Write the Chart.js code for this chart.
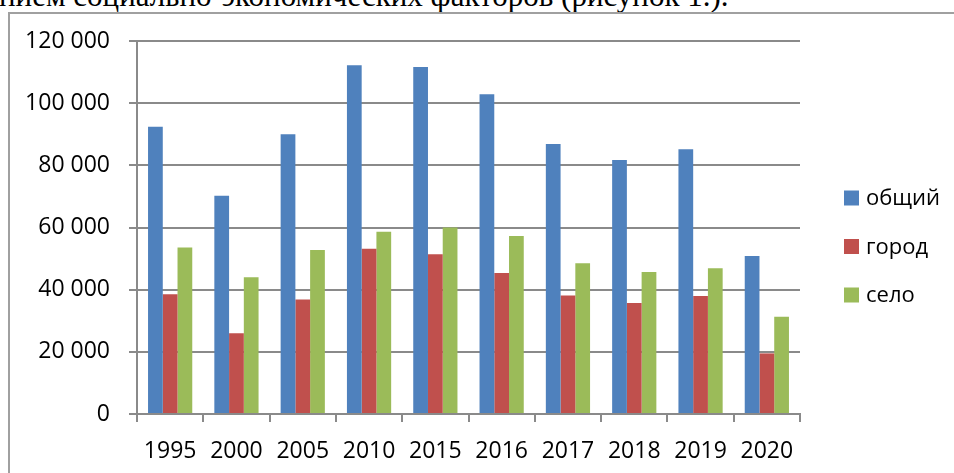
<!DOCTYPE html>
<html>
<head>
<meta charset="utf-8">
<script src="https://cdn.jsdelivr.net/npm/chart.js@4/dist/chart.umd.min.js"></script>
<style>
  html, body { margin: 0; padding: 0; background: #fff; }
  body { width: 954px; height: 473px; position: relative; overflow: hidden; }
  .caption {
    position: absolute; left: -1px; top: -22px; white-space: nowrap;
    font-family: "Liberation Serif", serif; font-size: 31px; color: #000;
  }
  .frame {
    position: absolute; left: 8px; top: 12px; width: 960px; height: 480px;
    border-left: 2px solid #a0a0a0; border-top: 2px solid #a0a0a0;
  }
  .wrap { position: absolute; left: 0; top: 0; width: 954px; height: 473px; }
</style>
</head>
<body>
<div class="caption">нием социально-экономических факторов (рисунок 1.).</div>
<div class="frame"></div>
<div class="wrap"><canvas id="chart"></canvas></div>
<script>
// данные
const years = ['1995', '2000', '2005', '2010', '2015', '2016', '2017', '2018', '2019', '2020'];
const total = [92400, 70200, 90000, 112200, 111600, 102900, 86900, 81700, 85200, 50800];
const city  = [38500, 26000, 36800, 53200, 51400, 45400, 38100, 35700, 38000, 19500];
const rural = [53600, 44000, 52800, 58600, 60000, 57300, 48500, 45700, 46900, 31300];
const seriesNames = ['общий', 'город', 'село'];
const colors = ['#4F81BD', '#C0504D', '#9BBB59'];
const yTicks = [0, 20000, 40000, 60000, 80000, 100000, 120000];

const FONT = '"Open Sans", sans-serif';
const gridColor = '#8a8a8a';

const fmt = (v) => String(v).replace(/\B(?=(\d{3})+(?!\d))/g, ' ');

// легенда справа
const sideLegend = {
  id: 'sideLegend',
  afterDraw(chart) {
    const ctx = chart.ctx;
    ctx.save();
    ctx.font = '22px ' + FONT;
    ctx.textBaseline = 'middle';
    chart.data.datasets.forEach((ds, i) => {
      const cy = 198 + i * 48.5;
      ctx.fillStyle = ds.backgroundColor;
      ctx.fillRect(844, cy - 7.5, 15, 15);
      ctx.fillStyle = '#000';
      ctx.fillText(ds.label, 866, cy + 1);
    });
    ctx.restore();
  }
};

const ctx = document.getElementById('chart').getContext('2d');
new Chart(ctx, {
  type: 'bar',
  data: {
    labels: years,
    datasets: [total, city, rural].map((d, i) => ({
      label: seriesNames[i],
      data: d,
      backgroundColor: colors[i],
      borderWidth: 0,
      categoryPercentage: 0.667,
      barPercentage: 1
    }))
  },
  options: {
    responsive: true,
    maintainAspectRatio: false,
    animation: false,
    layout: { padding: { left: 0, top: 41, right: 154, bottom: 9 } },
    plugins: { legend: { display: false }, tooltip: { enabled: false } },
    scales: {
      x: {
        grid: { drawOnChartArea: false, drawTicks: true, tickLength: 8, color: gridColor, lineWidth: 2 },
        border: { color: gridColor, width: 2 },
        ticks: { color: '#000', font: { family: FONT, size: 23 }, padding: 16, maxRotation: 0 },
        afterFit: (s) => { s.height = 50; }
      },
      y: {
        min: 0, max: 120000,
        afterBuildTicks: (s) => { s.ticks = yTicks.map(v => ({ value: v })); },
        grid: { color: gridColor, lineWidth: 2, tickLength: 8 },
        border: { color: gridColor, width: 2 },
        ticks: { color: '#000', font: { family: FONT, size: 23 }, padding: 19, callback: (v) => fmt(v) },
        afterFit: (s) => { s.width = 137; }
      }
    }
  },
  plugins: [sideLegend]
});
</script>
</body>
</html>
